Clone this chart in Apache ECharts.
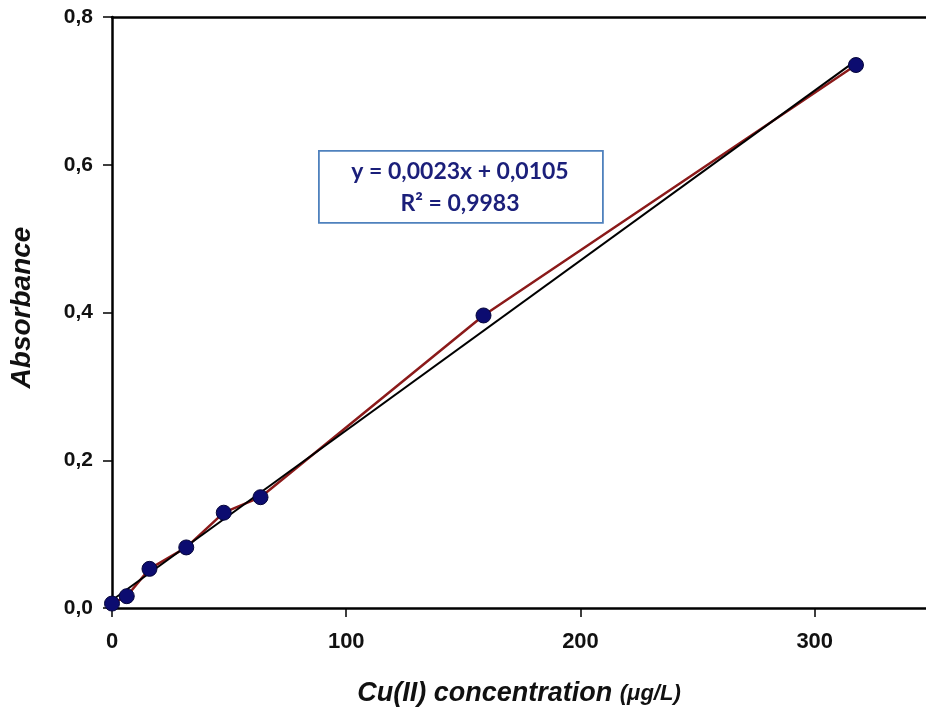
<!DOCTYPE html>
<html>
<head>
<meta charset="utf-8">
<script src="https://cdn.jsdelivr.net/npm/echarts@6/dist/echarts.min.js"></script>
<style>html,body{margin:0;padding:0;background:#fff;}#c{width:926px;height:713px;}</style>
</head>
<body>
<div id="c"></div>
<script>
// Measured calibration points
const concentration = [0, 6.3, 16, 31.7, 47.7, 63.4, 158.6, 317.6];
const absorbance    = [0.006, 0.016, 0.053, 0.082, 0.129, 0.150, 0.396, 0.735];
// Linear trendline endpoints
const trendX = [0, 317.6];
const trendY = [0.0105, 0.741];
// Axis ticks
const yTicks = [0, 0.2, 0.4, 0.6, 0.8];
const xTicks = [0, 100, 200, 300];
const equationLines = ['y = 0,0023x + 0,0105', 'R² = 0,9983'];

const pts = concentration.map((x, i) => [x, absorbance[i]]);
const trend = trendX.map((x, i) => [x, trendY[i]]);

const chart = echarts.init(document.getElementById('c'), null, {renderer: 'canvas'});
const ff = 'Liberation Sans, Arial, sans-serif';
const labelFont = {fontFamily: ff, fontWeight: 'bold', color: '#111'};
chart.setOption({
  animation: false,
  backgroundColor: '#fff',
  grid: {left: 111, top: 17, right: 0, bottom: 105, show: false},
  xAxis: [{
    type: 'value', min: 0, max: 347.5, interval: 100,
    axisLine: {show: true, onZero: false, lineStyle: {color: '#000', width: 2.5}},
    axisTick: {show: true, inside: false, length: 9, lineStyle: {color: '#000', width: 1.5}},
    splitLine: {show: false},
    axisLabel: Object.assign({fontSize: 22, margin: 23, showMaxLabel: false,
      formatter: v => xTicks.includes(v) ? String(v) : ''}, labelFont),
    name: '{a|Cu(II) concentration }{b|(μg/L)}',
    nameLocation: 'middle', nameGap: 72,
    nameTextStyle: {
      rich: {
        a: {fontFamily: ff, fontWeight: 'bold', fontStyle: 'italic', fontSize: 27, color: '#111'},
        b: {fontFamily: ff, fontWeight: 'bold', fontStyle: 'italic', fontSize: 22, color: '#111'}
      }
    }
  }, {
    type: 'value', position: 'top', min: 0, max: 347.5,
    axisLine: {show: true, onZero: false, lineStyle: {color: '#000', width: 2.5}},
    axisTick: {show: false}, axisLabel: {show: false}, splitLine: {show: false}
  }],
  yAxis: {
    type: 'value', min: 0, max: 0.8, interval: 0.2,
    axisLine: {show: true, onZero: false, lineStyle: {color: '#000', width: 2.5}},
    axisTick: {show: true, inside: false, length: 9, lineStyle: {color: '#000', width: 1.5}},
    splitLine: {show: false},
    axisLabel: Object.assign({fontSize: 21, margin: 19,
      formatter: v => v.toFixed(1).replace('.', ',')}, labelFont),
    name: 'Absorbance', nameLocation: 'middle', nameGap: 76,
    nameTextStyle: {fontFamily: ff, fontWeight: 'bold', fontStyle: 'italic', fontSize: 28, color: '#111', padding: [0, 0, 0, 10]}
  },
  series: [
    {type: 'line', data: pts, symbol: 'none', z: 2,
     lineStyle: {color: '#8b1a1a', width: 2.5}},
    {type: 'line', data: trend, symbol: 'none', z: 3,
     lineStyle: {color: '#000', width: 2}},
    {type: 'scatter', data: pts, symbol: 'circle', symbolSize: 15, z: 4,
     itemStyle: {color: '#0c0c70', borderColor: '#05053a', borderWidth: 1, opacity: 1}}
  ],
  graphic: [
    {type: 'rect', left: 318, top: 150, z: 10,
     shape: {width: 284, height: 72},
     style: {fill: '#fff', stroke: '#4f81bd', lineWidth: 1.8}},
    {type: 'text', z: 11, x: 460, y: 156,
     style: {text: equationLines.join('\n'), textAlign: 'center', lineHeight: 32,
       font: 'bold 23px Lato, "Open Sans", sans-serif', fill: '#1b1f7a'}}
  ]
});
</script>
</body>
</html>
